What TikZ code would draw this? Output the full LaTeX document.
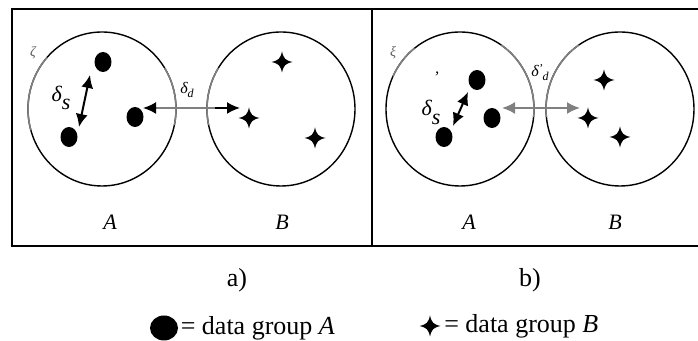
\documentclass[tikz,border=0pt]{standalone}
\usepackage{fontspec}
\setmainfont{Liberation Serif}
\usetikzlibrary{arrows.meta,calc,positioning,shapes.geometric}
\definecolor{mid-gray}{HTML}{808080}
\tikzset{
  dotA/.style={ellipse,fill=black,minimum width=8.5pt,minimum height=10pt,inner sep=0pt},
  crossB/.style={rectangle,minimum size=10.5pt,inner sep=0pt,
    path picture={\fill[shift={(path picture bounding box.center)}]
      (0,10.5) .. controls (1.6,3.4) and (3.4,1.6) .. (10.5,0)
      .. controls (3.4,-1.6) and (1.6,-3.4) .. (0,-10.5)
      .. controls (-1.6,-3.4) and (-3.4,-1.6) .. (-10.5,0)
      .. controls (-3.4,1.6) and (-1.6,3.4) .. cycle;}},
  ring/.style={line width=0.7pt},
  greyarc/.style={mid-gray,line width=0.75pt},
  tip/.style={-{Latex[length=6.5pt,width=6pt]}},
  dtip/.style={{Latex[length=6.5pt,width=6pt]}-{Latex[length=6.5pt,width=6pt]}},
  lbl/.style={font=\fontsize{11}{13}\selectfont\itshape,inner sep=0pt}
}

\begin{document}
\begin{tikzpicture}[x=0.5pt,y=0.5pt]
  \useasboundingbox (0,0) rectangle (698,341);

  % Rammer
  \draw[line width=1pt] (698,332) -- (12,332) -- (12,95) -- (698,95);
  \draw[line width=1pt] (372,332) -- (372,95);

  % Cirkler
  \coordinate (cLA) at (102,232);
  \coordinate (cLB) at (281,232);
  \coordinate (cRA) at (460,232);
  \coordinate (cRB) at (620,232);
  \foreach \c in {cLA,cLB,cRA,cRB}
    \draw[ring] (\c) ellipse [x radius=74,y radius=77];

  % Graa buer
  \draw[greyarc] ($(cLA)+(138:74 and 77)$) arc[start angle=138,end angle=196,x radius=74,y radius=77];
  \draw[greyarc] ($(cLA)+(-12:74 and 77)$) arc[start angle=-12,end angle=32,x radius=74,y radius=77];
  \draw[greyarc] ($(cLB)+(148:74 and 77)$) arc[start angle=148,end angle=192,x radius=74,y radius=77];
  \draw[greyarc] ($(cRA)+(128:74 and 77)$) arc[start angle=128,end angle=155,x radius=74,y radius=77];
  \draw[greyarc] ($(cRA)+(-6:74 and 77)$) arc[start angle=-6,end angle=56,x radius=74,y radius=77];
  \draw[greyarc] ($(cRB)+(124:74 and 77)$) arc[start angle=124,end angle=186,x radius=74,y radius=77];

  % Data A
  \node[dotA] (aL1) at (103,279) {};
  \node[dotA] (aL2) at (69,204) {};
  \node[dotA] (aL3) at (135,224) {};
  \node[dotA] (aR1) at (477,261) {};
  \node[dotA] (aR2) at (444,204) {};
  \node[dotA] (aR3) at (492,223) {};

  % Data B
  \node[crossB] (bL1) at (282,279) {};
  \node[crossB] (bL2) at (249,223) {};
  \node[crossB] (bL3) at (315,203) {};
  \node[crossB] (bR1) at (604,261) {};
  \node[crossB] (bR2) at (588,223) {};
  \node[crossB] (bR3) at (620,204) {};

  % Afstande, venstre
  \coordinate (sL1) at (90,266);
  \coordinate (sL2) at (79,214);
  \draw[line width=1pt,dtip] (sL1) -- (sL2);
  \coordinate (dL1) at (143,233);
  \coordinate (dLm) at (215,233);
  \coordinate (dL2) at (240,233);
  \draw[mid-gray,line width=1pt,{Latex[black,length=6.5pt,width=6pt]}-] (dL1) -- (dLm);
  \draw[line width=1pt,tip] (dLm) -- (dL2);

  % Afstande, hoejre
  \coordinate (sR1) at (468,249);
  \coordinate (sR2) at (453,215);
  \draw[line width=1pt,dtip] (sR1) -- (sR2);
  \coordinate (dR1) at (502,233);
  \coordinate (dR2) at (580,233);
  \draw[mid-gray,line width=1pt,dtip] (dR1) -- (dR2);

  % Labels
  \node[lbl] (lsL) at (61,243) {δ\raisebox{-0.4em}{s}};
  \node[lbl,font=\fontsize{8}{10}\selectfont\itshape] (ldL) at (187,251) {δ\raisebox{-0.2em}{\fontsize{6}{7}\selectfont d}};
  \node[lbl,font=\fontsize{7}{8}\selectfont\itshape,text=mid-gray!70!black] (zL) at (33,288) {ζ};
  \node[lbl] (lsR) at (431,243) {δ\raisebox{-0.4em}{s}\llap{\raisebox{1.5em}{\fontsize{8}{9}\selectfont'}\hspace{0.08em}}};
  \node[lbl,font=\fontsize{8}{10}\selectfont\itshape] (ldR) at (540,268) {δ\raisebox{0.25em}{\fontsize{6}{7}\selectfont'}\raisebox{-0.25em}{\fontsize{6}{7}\selectfont d}};
  \node[lbl,font=\fontsize{7}{8}\selectfont\itshape,text=mid-gray!70!black] (xR) at (393,288) {ξ};

  \node[lbl] (gLA) at (110,119) {A};
  \node[lbl] (gLB) at (282,119) {B};
  \node[lbl] (gRA) at (469,119) {A};
  \node[lbl] (gRB) at (615,119) {B};

  % Undertekster
  \node[font=\fontsize{13}{15}\selectfont,inner sep=0pt] (capa) at (237,61) {a)};
  \node[font=\fontsize{13}{15}\selectfont,inner sep=0pt] (capb) at (530,61) {b)};

  % Forklaring
  \node[dotA,minimum width=14pt,minimum height=12.5pt] (keyA) at (164,13) {};
  \node[font=\fontsize{13}{15}\selectfont,inner sep=0pt,anchor=west,right=1pt of keyA] (txtA) {= data group \textit{A}};
  \node[crossB] (keyB) at (430,15) {};
  \node[font=\fontsize{13}{15}\selectfont,inner sep=0pt,anchor=west,right=1.5pt of keyB] (txtB) {= data group \textit{B}};
\end{tikzpicture}
\end{document}
